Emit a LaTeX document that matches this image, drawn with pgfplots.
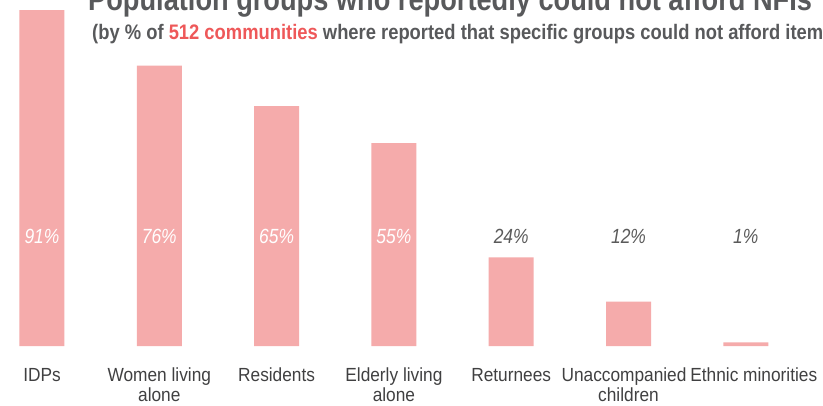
\documentclass[border=0pt]{standalone}
\usepackage{pgfplots}
\pgfplotsset{compat=1.18}
\usepackage{fontspec}
\setmainfont{Liberation Sans}
\newfontfamily\narrowfont[FakeStretch=0.85]{Liberation Sans}
\newfontfamily\tickfont[FakeStretch=0.91]{Liberation Sans}
\newfontfamily\subfont[FakeStretch=0.875]{Liberation Sans}
\definecolor{barpink}{HTML}{F5ABAB}
\definecolor{reachgrey}{HTML}{58595B}
\definecolor{reachred}{HTML}{EE5859}
\definecolor{labgrey}{HTML}{404041}
\definecolor{pctgrey}{HTML}{5A5A5A}
\begin{document}
\begin{tikzpicture}[x=1pt,y=1pt]
\begin{axis}[
  at={(0pt,59pt)}, anchor=south west,
  scale only axis, width=823pt, height=346pt,
  xmin=-0.358, xmax=6.658, ymin=0, ymax=93.77,
  axis line style={draw=none},
  major tick length=0pt,
  ytick=\empty,
  xtick={0,1,2,3,4,5},
  typeset ticklabels with strut,
  xticklabels={IDPs,{Women living\\alone},Residents,{Elderly living\\alone},Returnees,{\hspace*{-9pt}Unaccompanied\\children}},
  xticklabel style={font=\tickfont\fontsize{19}{20}\selectfont, text=labgrey, align=center, anchor=north, inner sep=0pt, yshift=-21.5pt},
  extra x ticks={6},
  extra x tick labels={Ethnic minorities},
  extra x tick style={xticklabel style={xshift=8pt}},
  clip=false,
]
\addplot[ybar, bar width=45pt, fill=barpink, draw=none] coordinates {(0,91) (1,76) (2,65) (3,55) (4,24) (5,12) (6,1)};
\addplot[draw=none, mark=none, nodes near coords, point meta=explicit symbolic,
  every node near coord/.style={anchor=center, inner sep=0pt, font=\narrowfont\itshape\fontsize{20.5}{22}\selectfont, text=white}]
  coordinates {(0,29.8) [91\%] (1,29.8) [76\%] (2,29.8) [65\%] (3,29.8) [55\%]};
\addplot[draw=none, mark=none, nodes near coords, point meta=explicit symbolic,
  every node near coord/.style={anchor=center, inner sep=0pt, font=\narrowfont\itshape\fontsize{20.5}{22}\selectfont, text=pctgrey}]
  coordinates {(4,29.8) [24\%] (5,29.8) [12\%] (6,29.8) [1\%]};
\end{axis}
\node[anchor=base west, inner sep=0pt, text=reachgrey, font=\narrowfont\bfseries\fontsize{32}{34}\selectfont] at (88pt,394pt) {Population groups who reportedly could not afford NFIs};
\node[anchor=base west, inner sep=0pt, text=reachgrey, font=\subfont\bfseries\fontsize{21}{23}\selectfont] at (92pt,365pt) {(by \% of \textcolor{reachred}{512 communities} where reported that specific groups could not afford items)};
\pgfresetboundingbox
\useasboundingbox (0pt,0pt) rectangle (823pt,405pt);
\end{tikzpicture}
\end{document}
